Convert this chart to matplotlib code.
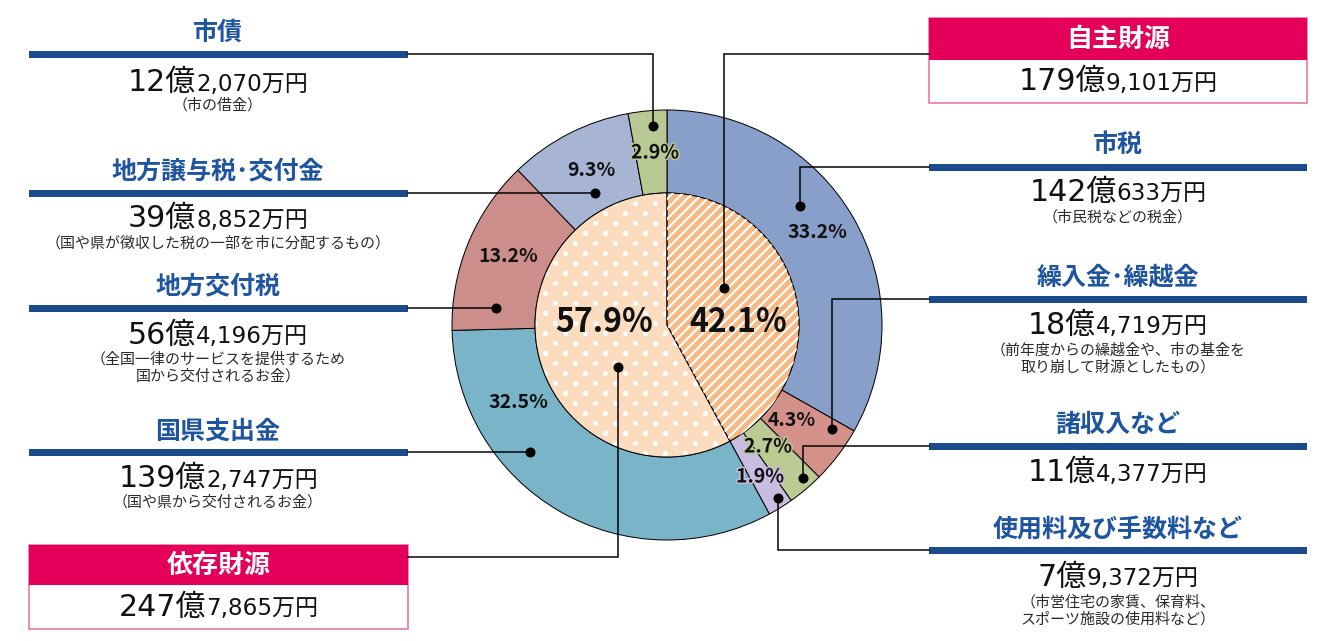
import numpy as np
import matplotlib
matplotlib.use("Agg")
import matplotlib.pyplot as plt
from matplotlib.patches import Rectangle
from matplotlib.offsetbox import TextArea, HPacker, AnnotationBbox
import matplotlib.patheffects as pe

W, H = 1319, 641
DPI = 72

plt.rcParams['font.family'] = ['Noto Sans CJK JP', 'DejaVu Sans']

# ------------ data ------------
outer_names = ['市税', '繰入金･繰越金', '諸収入など', '使用料及び手数料など',
               '国県支出金', '地方交付税', '地方譲与税･交付金', '市債']
outer_pct = [33.2, 4.3, 2.7, 1.9, 32.5, 13.2, 9.3, 2.9]
outer_oku = [142, 18, 11, 7, 139, 56, 39, 12]
outer_man = ['633', '4,719', '4,377', '9,372', '2,747', '4,196', '8,852', '2,070']
outer_notes = ['（市民税などの税金）',
               '（前年度からの繰越金や、市の基金を\n取り崩して財源としたもの）',
               '',
               '（市営住宅の家賃、保育料、\nスポーツ施設の使用料など）',
               '（国や県から交付されるお金）',
               '（全国一律のサービスを提供するため\n国から交付されるお金）',
               '（国や県が徴収した税の一部を市に分配するもの）',
               '（市の借金）']
outer_colors = ['#879fc9', '#d4918a', '#bccb93', '#c8bde0',
                '#7ab4c9', '#cc8e8a', '#a7b4d3', '#b9c994']

inner_names = ['自主財源', '依存財源']
inner_pct = [42.1, 57.9]
inner_oku = [179, 247]
inner_man = ['9,101', '7,865']
inner_colors = ['#f7b983', '#fbdcbf']

# ------------ layout (pixels, y from top) ------------
CX, CY = 667, 325
R_OUT, R_IN = 215, 132

# percent label positions
outer_lbl_pos = [(817, 233), (792, 420), (768, 447), (760, 477),
                 (518, 403), (508, 256), (591, 170), (655, 153)]
inner_lbl_pos = [(738, 322), (604, 322)]

# panels: (x centre, title y, bar y, amount y, note top y, leader path)
LEFT_X0, LEFT_X1 = 29, 408
RIGHT_X0, RIGHT_X1 = 929, 1307
outer_panels = [
    (1118, 145, 167, 192, 210, [(800, 206), (800, 167), (929, 167)]),
    (1118, 277, 299, 325, 343, [(832, 429), (832, 299), (929, 299)]),
    (1118, 425, 446, 472, 0, [(803, 478), (803, 446), (929, 446)]),
    (1118, 530, 550, 577, 595, [(778, 498), (778, 550), (929, 550)]),
    (218, 432, 452, 478, 495, [(530, 452), (408, 452)]),
    (218, 287, 308, 335, 352, [(496, 308), (408, 308)]),
    (218, 172, 193, 218, 236, [(595, 193), (408, 193)]),
    (218, 33, 54, 82, 98, [(653, 126), (653, 54), (408, 54)]),
]
# boxes: (x0, x1, header top, header bottom, box bottom, leader path)
inner_panels = [
    (RIGHT_X0, RIGHT_X1, 18, 60, 103, [(724, 288), (724, 54), (929, 54)]),
    (LEFT_X0, LEFT_X1, 545, 585, 629, [(618, 367), (618, 557), (408, 557)]),
]

TITLE_BLUE = '#1f55a0'
BAR_BLUE = '#1b4b8c'
PINK = '#e4005a'
PINK_EDGE = '#ea6a9f'
NUM_FONT = ['DejaVu Sans', 'Noto Sans CJK JP']


def py(y):
    return H - y


fig = plt.figure(figsize=(W / DPI, H / DPI), dpi=DPI)
ax = fig.add_axes([0, 0, 1, 1])
center = (CX, py(CY))

# outer ring
ax.pie(outer_pct, radius=R_OUT, center=center, startangle=90, counterclock=False,
       colors=outer_colors,
       wedgeprops=dict(width=R_OUT - R_IN, edgecolor='black', linewidth=1))

# inner pie: fill, then texture, then outline
inner_w, _ = ax.pie(inner_pct, radius=R_IN, center=center, startangle=90,
                    counterclock=False, colors=inner_colors,
                    wedgeprops=dict(linewidth=0))

# diagonal white stripes on the 自主財源 half
for c in np.arange(-2 * R_IN, 2 * R_IN, 10.0):
    xs = np.array([CX - R_IN - 5, CX + R_IN + 5])
    ys = py(CY) + (xs - CX) + c
    ln, = ax.plot(xs, ys, color='white', lw=2.2, solid_capstyle='butt')
    ln.set_clip_path(inner_w[0])

# staggered white dots on the 依存財源 half
gx, gy = np.meshgrid(np.arange(CX - R_IN, CX + R_IN + 20, 20.0),
                     np.arange(CY - R_IN, CY + R_IN + 10, 10.0))
gx = gx + np.where((np.round((gy - CY) / 10) % 2) == 0, 0, 10)
sc = ax.scatter(gx.ravel(), py(gy.ravel()), s=26, color='white', lw=0)
sc.set_clip_path(inner_w[1])

ax.pie(inner_pct, radius=R_IN, center=center, startangle=90, counterclock=False,
       colors=['none', 'none'],
       wedgeprops=dict(edgecolor='black', linewidth=1, fill=False))

ax.set_xlim(0, W)
ax.set_ylim(0, H)
ax.set_aspect('equal')
ax.axis('off')

# percent labels
for pct, (x, y), col in zip(outer_pct, outer_lbl_pos, outer_colors):
    t = ax.text(x, py(y), f'{pct}%', ha='center', va='center',
                fontsize=19.5, fontweight='bold', color='#111111')
    if pct < 3:
        t.set_path_effects([pe.withStroke(linewidth=3, foreground=col)])
for pct, (x, y) in zip(inner_pct, inner_lbl_pos):
    ax.text(x, py(y), f'{pct}%', ha='center', va='center',
            fontsize=32, fontweight='bold', color='#111111')


def amount(xc, y, oku, man, big=30, small=23):
    a = TextArea(f'{oku}億', textprops=dict(fontsize=big, color='#111111',
                                             family=NUM_FONT))
    b = TextArea(f'{man}万円', textprops=dict(fontsize=small, color='#111111',
                                              family=NUM_FONT))
    box = HPacker(children=[a, b], align='baseline', pad=0, sep=0)
    ab = AnnotationBbox(box, (xc, py(y)), frameon=False,
                        box_alignment=(0.5, 0.5), pad=0)
    ax.add_artist(ab)


def leader(path):
    xs = [p[0] for p in path]
    ys = [py(p[1]) for p in path]
    ax.plot(xs, ys, color='black', lw=1.5, solid_joinstyle='miter')
    ax.plot(xs[0], ys[0], 'o', color='black', ms=9)


for name, oku, man, note, panel in zip(outer_names, outer_oku, outer_man,
                                       outer_notes, outer_panels):
    xc, ty, by, ay, ny, path = panel
    x0, x1 = (LEFT_X0, LEFT_X1) if xc < CX else (RIGHT_X0, RIGHT_X1)
    ax.text(xc, py(ty), name, ha='center', va='center', fontsize=25,
            fontweight='bold', color=TITLE_BLUE)
    ax.add_patch(Rectangle((x0, py(by) - 3.5), x1 - x0, 7, color=BAR_BLUE, lw=0))
    amount(xc, ay, oku, man)
    if note:
        ax.text(xc, py(ny), note, ha='center', va='top', fontsize=15,
                color='#2a2a2a', linespacing=1.25)
    leader(path)

for name, oku, man, panel in zip(inner_names, inner_oku, inner_man, inner_panels):
    x0, x1, ht, hb, bb, path = panel
    ax.add_patch(Rectangle((x0, py(bb)), x1 - x0, bb - ht, facecolor='white',
                           edgecolor=PINK_EDGE, lw=1.5))
    ax.add_patch(Rectangle((x0, py(hb)), x1 - x0, hb - ht, facecolor=PINK, lw=0))
    xc = (x0 + x1) / 2
    ax.text(xc, py((ht + hb) / 2), name, ha='center', va='center', fontsize=26,
            fontweight='bold', color='white')
    amount(xc, (hb + bb) / 2, oku, man)
    leader(path)

fig.savefig('out.png', dpi=DPI)
